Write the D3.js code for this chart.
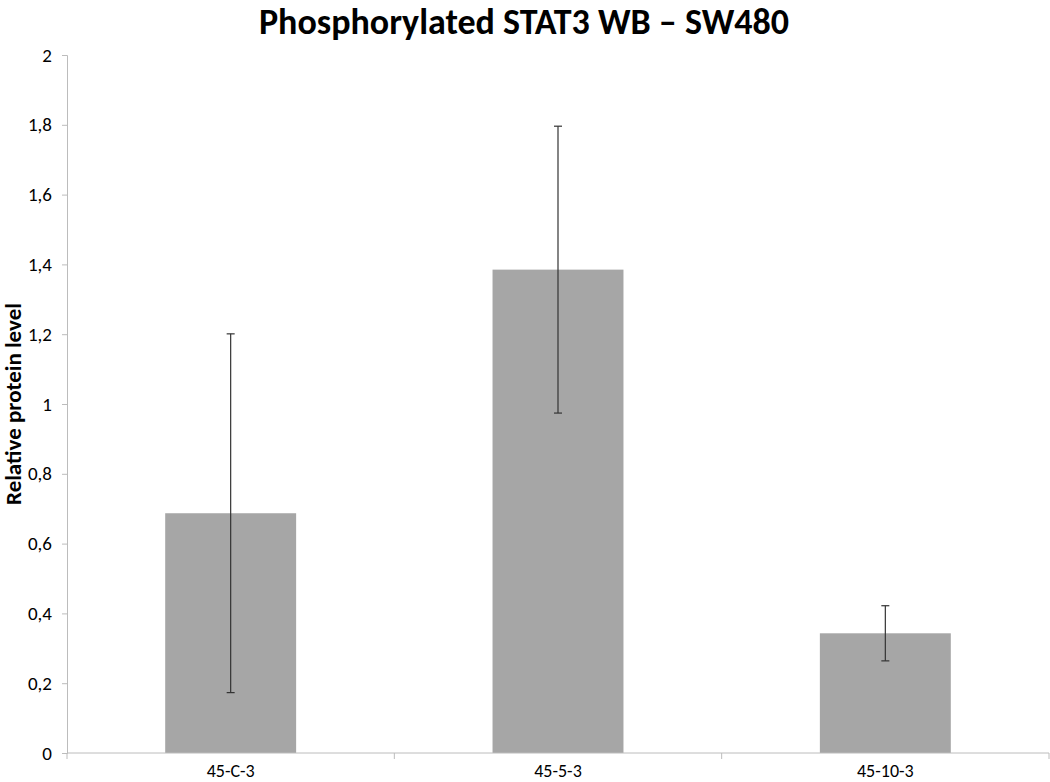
<!DOCTYPE html>
<html>
<head>
<meta charset="utf-8">
<script src="https://cdnjs.cloudflare.com/ajax/libs/d3/7.8.5/d3.min.js"></script>
<style>
  body { margin: 0; background: #fff; }
</style>
</head>
<body>
<script>
const categories = ["45-C-3", "45-5-3", "45-10-3"];
const values = [0.687, 1.385, 0.343];
const errors = [0.514, 0.411, 0.079];
const yTicks = [0, 0.2, 0.4, 0.6, 0.8, 1, 1.2, 1.4, 1.6, 1.8, 2];

function main(){
    const width = 1050;
    const height = 782;
    const margin = {top: 55, right: 1, bottom: 29, left: 67};

    const svg = d3.select("body").append("svg")
        .attr("width", width)
        .attr("height", height);

    const font = "Carlito, 'Open Sans', 'Liberation Sans', sans-serif";

    const x = d3.scaleBand()
        .domain(categories)
        .range([margin.left, width - margin.right])
        .paddingInner(0.6)
        .paddingOuter(0.3);

    const y = d3.scaleLinear()
        .domain([0, 2])
        .range([height - margin.bottom, margin.top]);

    // title
    svg.append("text")
        .attr("x", 524)
        .attr("y", 34)
        .attr("text-anchor", "middle")
        .attr("font-family", font)
        .attr("font-weight", "bold")
        .attr("font-size", "36px")
        .attr("fill", "#000")
        .text("Phosphorylated STAT3 WB \u2013 SW480");

    // y axis title
    svg.append("text")
        .attr("transform", "translate(21," + 404 + ") rotate(-90)")
        .attr("text-anchor", "middle")
        .attr("font-family", font)
        .attr("font-weight", "bold")
        .attr("font-size", "23px")
        .text("Relative protein level");

    // bars
    svg.append("g")
        .selectAll("rect")
        .data(values)
        .enter()
        .append("rect")
        .attr("x", (d, i) => x(categories[i]))
        .attr("y", d => y(d))
        .attr("width", x.bandwidth())
        .attr("height", d => y(0) - y(d))
        .style("fill", "#a6a6a6");

    // y axis
    const yAxis = svg.append("g")
        .attr("transform", "translate(" + margin.left + ",0)")
        .call(d3.axisLeft(y)
            .tickValues(yTicks)
            .tickSize(5)
            .tickPadding(10)
            .tickFormat(d => String(d).replace(".", ",")));
    yAxis.select(".domain").attr("stroke", "#bcbcbc");
    yAxis.selectAll(".tick line").attr("stroke", "#bcbcbc");
    yAxis.selectAll("text")
        .attr("font-family", font)
        .attr("font-size", "19px")
        .attr("fill", "#000");

    // x axis with category boundary ticks
    const bounds = d3.range(categories.length + 1).map(i => margin.left + i * (width - margin.right - margin.left) / categories.length);
    const xg = svg.append("g");
    xg.append("line")
        .attr("x1", margin.left).attr("x2", width - margin.right)
        .attr("y1", y(0)).attr("y2", y(0))
        .attr("stroke", "#bcbcbc");
    xg.selectAll("line.tk")
        .data(bounds)
        .enter()
        .append("line")
        .attr("class", "tk")
        .attr("x1", d => d).attr("x2", d => d)
        .attr("y1", y(0)).attr("y2", y(0) + 6)
        .attr("stroke", "#bcbcbc");
    xg.selectAll("text")
        .data(categories)
        .enter()
        .append("text")
        .attr("x", d => x(d) + x.bandwidth() / 2)
        .attr("y", y(0) + 24)
        .attr("text-anchor", "middle")
        .attr("font-family", font)
        .attr("font-size", "18px")
        .text(d => d);

    // error bars
    const eb = svg.append("g").attr("stroke", "#333").attr("stroke-width", 1.2);
    values.forEach((v, i) => {
        const cx = x(categories[i]) + x.bandwidth() / 2;
        eb.append("line")
            .attr("x1", cx).attr("x2", cx)
            .attr("y1", y(v + errors[i])).attr("y2", y(v - errors[i]));
        [v + errors[i], v - errors[i]].forEach(e => {
            eb.append("line")
                .attr("x1", cx - 4).attr("x2", cx + 4)
                .attr("y1", y(e)).attr("y2", y(e));
        });
    });
}

main();
</script>
</body>
</html>
